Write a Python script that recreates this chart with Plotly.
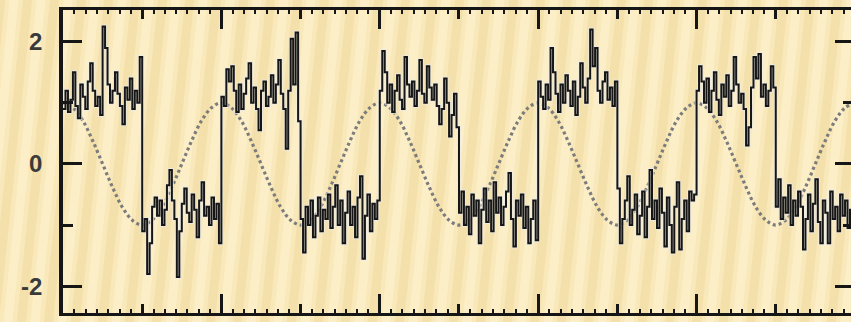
import plotly.graph_objects as go

# Reference oscillation (dotted), sampled every 1/8 time unit
ref_step = 0.125
ref_wave = [
    1.0, 0.92, 0.71, 0.38, 0.0, -0.38, -0.71, -0.92, -1.0, -0.92, -0.71, -0.38, 0.0, 0.38, 0.71, 0.92,
    1.0, 0.92, 0.71, 0.38, 0.0, -0.38, -0.71, -0.92, -1.0, -0.92, -0.71, -0.38, 0.0, 0.38, 0.71, 0.92,
    1.0, 0.92, 0.71, 0.38, 0.0, -0.38, -0.71, -0.92, -1.0, -0.92, -0.71, -0.38, 0.0, 0.38, 0.71, 0.92,
    1.0, 0.92, 0.71, 0.38, 0.0, -0.38, -0.71, -0.92, -1.0, -0.92, -0.71, -0.38, 0.0, 0.38, 0.71, 0.92,
    1.0, 0.92, 0.71, 0.38, 0.0, -0.38, -0.71, -0.92, -1.0, -0.92, -0.71, -0.38, 0.0, 0.38, 0.71, 0.92,
    1.0,
]

# Recorded switching signal, sampled every 1/32 time unit, one list per half cycle
sig_step = 1 / 32
seg1 = [0.9, 1.2, 0.85, 1.05, 1.5, 0.95, 0.75, 1.3, 1.1, 0.9, 1.35, 1.65, 1.2, 0.95, 1.1, 0.8,
        2.25, 1.9, 1.3, 1.0, 1.2, 1.5, 1.15, 0.95, 0.65, 1.25, 1.05, 1.4, 0.9, 1.2, 1.0, 1.75]
seg2 = [-1.1, -0.9, -1.8, -1.3, -0.7, -0.55, -0.85, -0.6, -1.0, -0.75, -0.35, -0.1, -0.6, -0.9, -1.85, -1.1,
        -0.65, -0.4, -0.8, -0.95, -0.5, -0.75, -1.2, -0.6, -0.3, -0.85, -0.7, -1.0, -0.55, -0.9, -0.65, -1.3]
seg3 = [1.1, 0.95, 1.55, 1.35, 1.6, 1.2, 0.85, 1.3, 0.9, 1.15, 1.4, 1.65, 1.0, 1.25, 0.9, 0.55,
        1.2, 1.35, 0.95, 1.1, 1.45, 1.0, 1.3, 1.7, 1.15, 0.9, 0.25, 1.2, 2.05, 1.3, 2.15, 0.7]
seg4 = [-0.9, -1.45, -0.7, -1.0, -0.6, -1.2, -0.85, -0.55, -1.1, -0.75, -0.9, -0.5, -1.05, -0.7, -0.35, -1.0,
        -0.6, -1.3, -0.8, -0.45, -1.0, -0.7, -1.2, -0.55, -0.2, -1.55, -0.85, -0.5, -1.1, -0.65, -0.9, -0.6]
seg5 = [1.2, 1.85, 1.5, 1.0, 1.3, 0.85, 1.2, 1.45, 1.05, 0.9, 1.75, 1.3, 1.1, 1.35, 0.95, 1.2,
        1.7, 1.15, 1.0, 1.6, 1.25, 1.05, 1.3, 0.95, 0.65, 0.9, 1.4, 1.0, 0.45, 0.8, 1.15, 0.6]
seg6 = [-0.8, -0.45, -1.0, -0.7, -1.15, -0.5, -0.85, -0.6, -1.3, -0.75, -0.4, -0.95, -0.6, -1.1, -0.3, -0.8,
        -0.55, -1.0, -0.7, -0.45, -0.15, -0.9, -1.35, -0.6, -0.85, -0.5, -1.05, -0.7, -1.3, -0.9, -0.6, -1.25]
seg7 = [1.35, 1.1, 0.9, 1.3, 1.05, 1.9, 1.5, 1.15, 0.85, 1.3, 1.0, 1.45, 1.2, 0.95, 1.35, 0.8,
        1.1, 1.65, 1.25, 1.0, 1.4, 2.2, 1.6, 1.9, 1.2, 1.0, 1.35, 1.5, 1.05, 1.25, 0.95, 1.35]
seg8 = [-0.4, -1.3, -0.9, -0.6, -0.2, -1.0, -0.75, -0.5, -1.15, -0.85, -0.45, -1.2, -0.7, -0.1, -0.9, -0.6,
        -1.05, -0.4, -0.8, -1.35, -0.55, -1.0, -1.45, -0.7, -0.3, -1.4, -0.9, -0.6, -1.1, -0.45, -0.6, -0.5]
seg9 = [1.2, 1.6, 1.35, 1.0, 1.4, 0.85, 1.2, 1.5, 1.05, 0.8, 1.3, 1.1, 1.45, 0.95, 1.2, 1.75,
        1.3, 1.0, 1.15, 0.9, 0.3, 0.6, 1.25, 1.75, 1.4, 1.8, 1.1, 1.3, 0.95, 1.2, 1.6, 1.25]
seg10 = [-0.7, -0.25, -0.9, -0.55, -0.8, -0.35, -1.0, -0.6, -0.85, -0.45, -0.7, -1.4, -0.9, -0.5, -1.1, -0.65,
         -0.25, -0.95, -1.3, -0.6, -0.8, -1.3, -0.45, -0.9, -0.7, -1.1, -0.5, -0.85, -0.6, -1.05, -0.75, -0.9]

y_ticks = [-2, 0, 2]
y_tick_labels = ["-2", "0", "2"]

signal = seg1 + seg2 + seg3 + seg4 + seg5 + seg6 + seg7 + seg8 + seg9 + seg10
sig_t = [i * sig_step for i in range(len(signal))]
ref_t = [i * ref_step for i in range(len(ref_wave))]

W, H = 851, 322
ML, MR, MT, MB = 63, 0, 10, 9
X_RANGE = [0, 9.95]
Y_RANGE = [-2.44, 2.52]
INK = "#161616"

fig = go.Figure()
# dotted reference oscillation
fig.add_trace(go.Scatter(
    x=ref_t, y=ref_wave, mode="lines",
    line=dict(color="#7c7c7c", width=3.2, dash="3px,3px", shape="spline", smoothing=1.0),
    hoverinfo="skip", showlegend=False,
))
# switching signal with a pale halo
fig.add_trace(go.Scatter(
    x=sig_t, y=signal, mode="lines",
    line=dict(color="rgba(235,235,235,0.7)", width=4.0, shape="hv"),
    hoverinfo="skip", showlegend=False,
))
fig.add_trace(go.Scatter(
    x=sig_t, y=signal, mode="lines",
    line=dict(color=INK, width=2.0, shape="hv"),
    hoverinfo="skip", showlegend=False,
))
# invisible anchors so the auxiliary tick axes are rendered
fig.add_trace(go.Scatter(x=[0], y=[0], yaxis="y2", mode="markers",
                         marker=dict(opacity=0), hoverinfo="skip", showlegend=False))
fig.add_trace(go.Scatter(x=[0], y=[0], xaxis="x2", mode="markers",
                         marker=dict(opacity=0), hoverinfo="skip", showlegend=False))

# soft slanted stripes on the page background
pw, ph = W - ML - MR, H - MT - MB
def px(xp):
    return (xp - ML) / pw
def py(yp):
    return (H - MB - yp) / ph

shapes = []
slant = 34
for x0 in range(-60, 900, 27):
    for w, col in ((18, "rgba(228,196,118,0.16)"), (9, "rgba(228,196,118,0.22)")):
        xl = x0 - w / 2
        xr = x0 + w / 2
        path = (f"M {px(xl)} {py(H + 4)} L {px(xr)} {py(H + 4)} "
                f"L {px(xr + slant)} {py(-4)} L {px(xl + slant)} {py(-4)} Z")
        shapes.append(dict(type="path", path=path, xref="paper", yref="paper",
                           fillcolor=col, line=dict(width=0), layer="below"))

fig.update_layout(
    width=W, height=H,
    margin=dict(l=ML, r=MR, t=MT, b=MB, pad=0),
    paper_bgcolor="#fcefc8",
    plot_bgcolor="rgba(0,0,0,0)",
    shapes=shapes,
    showlegend=False,
    xaxis=dict(
        range=X_RANGE, tick0=0, dtick=2, ticks="inside", ticklen=19, tickwidth=3,
        tickcolor=INK, showticklabels=False, showgrid=False, zeroline=False,
        showline=True, linewidth=3, linecolor=INK, mirror="ticks",
        minor=dict(dtick=1, tick0=0, ticks="inside", ticklen=9, tickwidth=2.5,
                   tickcolor=INK, showgrid=False),
    ),
    xaxis2=dict(
        range=X_RANGE, overlaying="x", side="bottom", tick0=0, dtick=1 / 7,
        ticks="inside", ticklen=4, tickwidth=1.5, tickcolor=INK,
        showticklabels=False, showgrid=False, zeroline=False,
        showline=True, linewidth=3, linecolor=INK, mirror="ticks",
    ),
    yaxis=dict(
        range=Y_RANGE, tickvals=y_ticks, ticktext=y_tick_labels,
        ticks="inside", ticklen=19, tickwidth=3, tickcolor=INK,
        ticklabelstandoff=12,
        tickfont=dict(family="Liberation Sans, Arial, sans-serif", size=24,
                      color="#3a3a3a", weight="bold"),
        showgrid=False, zeroline=False,
        showline=True, linewidth=3.5, linecolor=INK,
        minor=dict(dtick=1, tick0=0, ticks="inside", ticklen=10, tickwidth=2.5,
                   tickcolor=INK, showgrid=False),
    ),
    yaxis2=dict(
        range=Y_RANGE, overlaying="y", side="right", tick0=0, dtick=2,
        ticks="inside", ticklen=16, tickwidth=3, tickcolor=INK,
        showticklabels=False, showgrid=False, zeroline=False, showline=False,
        minor=dict(dtick=1, tick0=0, ticks="inside", ticklen=8, tickwidth=2.5,
                   tickcolor=INK, showgrid=False),
    ),
)

fig.write_html("out.html")
